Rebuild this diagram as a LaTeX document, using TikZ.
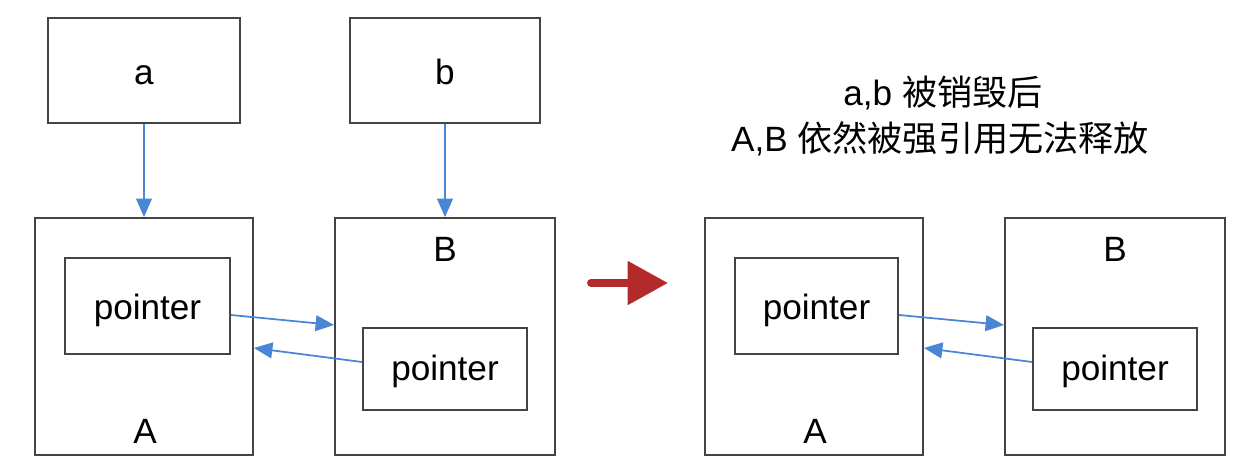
\documentclass[tikz,border=0pt]{standalone}
\usepackage{fontspec}
\setmainfont{Liberation Sans}
\newfontfamily\cjk{Noto Sans CJK SC}
\usetikzlibrary{arrows.meta}
\definecolor{edge}{HTML}{444444}
\definecolor{link}{HTML}{4A86D6}
\definecolor{redarr}{HTML}{B22A2A}
\begin{document}
\begin{tikzpicture}[x=0.02cm,y=-0.02cm,
  box/.style={draw=edge,line width=1.1pt,inner sep=0pt},
  lbl/.style={font=\fontsize{20}{24}\selectfont,inner sep=0pt,anchor=base},
  link/.style={draw=link,line width=1pt,-{Triangle[length=10.5pt,width=9pt]}},
]
\useasboundingbox (0,0) rectangle (1250,472);
% left side
\node[box,minimum width=192*0.02cm,minimum height=105*0.02cm] (a) at (144,70.5) {};
\node[lbl] (alab) at (144,85) {a};
\node[box,minimum width=190*0.02cm,minimum height=105*0.02cm] (b) at (445,70.5) {};
\node[lbl] (blab) at (445,85) {b};
\node[box,minimum width=218*0.02cm,minimum height=237*0.02cm] (A) at (144,336.5) {};
\node[lbl] (Alab) at (145,443) {A};
\node[box,minimum width=220*0.02cm,minimum height=237*0.02cm] (B) at (445,336.5) {};
\node[lbl] (Blab) at (445,262) {B};
\node[box,minimum width=165*0.02cm,minimum height=96*0.02cm] (pA) at (147.5,306) {};
\node[lbl] (pAlab) at (147.5,320) {pointer};
\node[box,minimum width=164*0.02cm,minimum height=82*0.02cm] (pB) at (445,369) {};
\node[lbl] (pBlab) at (445,381) {pointer};
\draw[link] (a.south) -- (A.north);
\draw[link] (b.south) -- (B.north);
\draw[link] (pA.east |- 0,315) -- (B.west |- 0,325);
\draw[link] (pB.west |- 0,362) -- (A.east |- 0,348);
% red arrow
\coordinate (r1) at (591,283);
\coordinate (r2) at (668,283);
\draw[redarr,line width=4.5pt,line cap=round,-{Triangle[length=23pt,width=24pt]}] (r1) -- (r2);
% right side
\node[lbl] (t1) at (943,106) {a,b {\cjk 被销毁后}};
\node[lbl] (t2) at (940,152) {A,B {\cjk 依然被强引用无法释放}};
\node[box,minimum width=218*0.02cm,minimum height=237*0.02cm] (A2) at (814,336.5) {};
\node[lbl] (A2lab) at (815,443) {A};
\node[box,minimum width=220*0.02cm,minimum height=237*0.02cm] (B2) at (1115,336.5) {};
\node[lbl] (B2lab) at (1115,262) {B};
\node[box,minimum width=163*0.02cm,minimum height=96*0.02cm] (pA2) at (816.5,306) {};
\node[lbl] (pA2lab) at (816.5,320) {pointer};
\node[box,minimum width=164*0.02cm,minimum height=82*0.02cm] (pB2) at (1115,369) {};
\node[lbl] (pB2lab) at (1115,381) {pointer};
\draw[link] (pA2.east |- 0,315) -- (B2.west |- 0,325);
\draw[link] (pB2.west |- 0,362) -- (A2.east |- 0,348);
\end{tikzpicture}
\end{document}
